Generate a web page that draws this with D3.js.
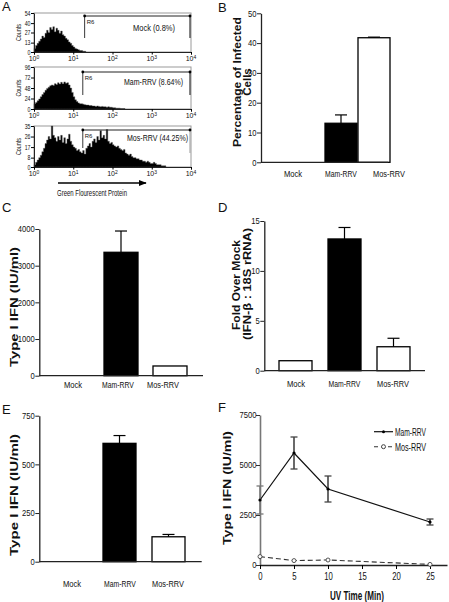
<!DOCTYPE html>
<html><head><meta charset="utf-8">
<script src="https://cdn.jsdelivr.net/npm/d3@7"></script>
<style>
body{margin:0;background:#fff}
svg{display:block}
text{font-family:"Liberation Sans Narrow","Arial Narrow","Liberation Sans",Arial,sans-serif;fill:#111}
.bold{font-family:"Liberation Sans",Arial,sans-serif;font-weight:bold}
.reg{font-family:"Liberation Sans",Arial,sans-serif}
</style></head><body>
<script>
// ---------- DATA ----------
const histBinDecades = 0.04;
const mockCounts = [5,9,12,15,18,22,20,26,30,27,34,31,35,28,33,30,26,29,24,22,19,17,14,12,9,7,5,4,3,2,2,1,1];
const mamCounts = [12,15,19,23,28,33,38,43,47,50,53,55,54,58,56,60,57,61,58,62,59,60,55,48,38,28,21,17,14,12,12,11,10,9,9,8,8,7,7,6,7,6,5,6,5,5,4,5,4,4,3,3,2,2,2,1,1,1];
const mosCounts = [2,4,6,8,10,13,16,20,23,26,24,35,27,25,22,26,23,27,21,25,20,24,28,22,19,17,16,14,15,13,12,14,11,16,18,20,17,22,24,21,26,23,31,25,27,24,32,22,20,21,19,18,17,18,16,15,14,15,12,11,10,11,9,8,8,7,7,6,6,5,5,4,5,4,3,3,4,3,2,2,2,1,1,1];
const histYMax = [54, 96, 35];
const histYTicks = [[0,13,27,40,54],[0,24,48,72,96],[0,8,17,26,35]];
const histLabels = ["Mock (0.8%)","Mam-RRV (8.64%)","Mos-RRV (44.25%)"];
const gateStart = [19.5, 17.5, 17.5];
const xDecades = [0,1,2,3,4];

const categories = ["Mock","Mam-RRV","Mos-RRV"];
const barFills = ["#fff","#000","#fff"];
const infectedPct = [0,13.1,41.8];
const infectedErr = [0,2.8,0.2];
const ifnC = [0,3365,265];
const ifnCErr = [0,580,0];
const foldD = [1.0,13.2,2.4];
const foldDErr = [0,1.15,0.85];
const ifnE = [0,608,128];
const ifnEErr = [0,40,12];
const ticksB = [0,10,20,30,40,50];
const ticksC = [0,1000,2000,3000,4000];
const ticksD = [0,5,10,15];
const ticksE = [0,250,500,750];

const uvTimes = [0,5,10,25];
const mamUV = [3250,5600,3800,2150];
const mamUVErr = [700,800,650,150];
const mosUV = [420,220,250,30];
const mosUVErr = [130,40,30,20];
const ticksFY = [0,2500,5000,7500];
const ticksFX = [0,5,10,15,20,25];

// ---------- DRAW ----------
const svg = d3.select("body").append("svg").attr("width",449).attr("height",602);
const fmt = d3.format("d");

function txt(g, x, y, s, o={}) {
  const t = g.append("text").attr("x",x).attr("y",y).text(s);
  if (o.size) t.style("font-size", o.size+"px");
  if (o.cls) t.attr("class", o.cls);
  if (o.anchor) t.attr("text-anchor", o.anchor);
  if (o.len) t.attr("textLength", o.len).attr("lengthAdjust","spacingAndGlyphs");
  if (o.rot) t.attr("transform", `rotate(-90,${x},${y})`);
  if (o.fill) t.style("fill", o.fill);
  return t;
}
function narrow(sel, perChar){
  sel.each(function(){
    const s = d3.select(this);
    s.attr("textLength", s.text().length*perChar).attr("lengthAdjust","spacingAndGlyphs");
  });
}

// panel letters
[["A",2,11],["B",218,12],["C",2,212],["D",218,212],["E",2,414],["F",218,412]].forEach(d=>txt(svg,d[1],d[2],d[0],{size:13,cls:"reg"}));

// ---- Panel A histograms ----
const histBoxes = [
  {x0:34,x1:191,yTop:13,yBot:52, gTop:16, gBotL:38, gBotR:38, ly:31},
  {x0:34,x1:191,yTop:67,yBot:109, gTop:72, gBotL:95, gBotR:95, ly:85},
  {x0:34,x1:191,yTop:126,yBot:167, gTop:130, gBotL:148, gBotR:153, ly:141}
];
const histCounts = [mockCounts, mamCounts, mosCounts];
const histLabelX = [[133,42],[124,59],[127,61]];
histBoxes.forEach((b,k)=>{
  const g = svg.append("g");
  const x = d3.scaleLog().domain([1,1e4]).range([b.x0,b.x1]);
  const y = d3.scaleLinear().domain([0,histYMax[k]]).range([b.yBot,b.yTop]);
  g.append("rect").attr("x",b.x0).attr("y",b.yTop).attr("width",b.x1-b.x0).attr("height",b.yBot-b.yTop)
    .attr("fill","none").attr("stroke","#9a9a9a").attr("stroke-width",1);
  const pts = histCounts[k].map((c,i)=>({v:Math.pow(10,i*histBinDecades), c}));
  pts.push({v:Math.pow(10,histCounts[k].length*histBinDecades), c:0});
  g.append("path").datum(pts)
    .attr("d", d3.area().x(d=>x(d.v)).y0(b.yBot).y1(d=>y(d.c)).curve(d3.curveStepAfter))
    .attr("fill","#000").attr("stroke","#555").attr("stroke-width",0.4);
  const ya = g.append("g").attr("transform",`translate(${b.x0},0)`)
    .call(d3.axisLeft(y).tickValues(histYTicks[k]).tickSize(3).tickSizeOuter(0));
  ya.select(".domain").attr("stroke","#222");
  ya.selectAll("text").style("font-size","7px").attr("x",-3.5);
  narrow(ya.selectAll("text"), 2.9);
  const xa = g.append("g").attr("transform",`translate(0,${b.yBot})`)
    .call(d3.axisBottom(x).tickValues(xDecades.map(d=>Math.pow(10,d))).tickSize(2.5).tickFormat(""));
  xa.select(".domain").attr("stroke","#222");
  xDecades.forEach(d=>{
    const t = g.append("text").attr("x",x(Math.pow(10,d))).attr("y",b.yBot+9).attr("text-anchor","middle").style("font-size","7px");
    t.append("tspan").text("10");
    t.append("tspan").text(d).attr("dy",-2.5).style("font-size","5px");
  });
  txt(g, 21, (b.yTop+b.yBot)/2, "Counts", {size:6.5, anchor:"middle", rot:true, len:17});
  // gate R6
  const gx0 = x(gateStart[k]), gx1 = x(1e4)-1;
  g.append("line").attr("x1",gx0).attr("x2",gx1).attr("y1",b.gTop).attr("y2",b.gTop).attr("stroke","#222").attr("stroke-width",1);
  g.append("line").attr("x1",gx0).attr("x2",gx0).attr("y1",b.gTop).attr("y2",b.gBotL).attr("stroke","#222").attr("stroke-width",0.9);
  g.append("line").attr("x1",gx1).attr("x2",gx1).attr("y1",b.gTop).attr("y2",b.gBotR).attr("stroke",k===2?"#aaa":"#333").attr("stroke-width",1.2);
  [gx0,gx1].forEach(xx=>g.append("circle").attr("cx",xx).attr("cy",b.gTop).attr("r",1.4).attr("fill","#000"));
  txt(g, gx0+2, b.gTop+8, "R6", {size:6});
  txt(g, histLabelX[k][0], b.ly, histLabels[k], {size:9, len:histLabelX[k][1]});
});
// GFP arrow
const defs = svg.append("defs");
defs.append("marker").attr("id","arr").attr("viewBox","0 0 10 10").attr("refX",9).attr("refY",5)
  .attr("markerWidth",6).attr("markerHeight",6).attr("orient","auto")
  .append("path").attr("d","M0,1 L10,5 L0,9 Z").attr("fill","#000");
svg.append("line").attr("x1",58).attr("x2",146).attr("y1",183).attr("y2",183).attr("stroke","#000").attr("stroke-width",1.3).attr("marker-end","url(#arr)");
txt(svg, 92, 196, "Green Flourescent Protein", {size:9, anchor:"middle", len:70});

// ---- Bar panels ----
function barPanel(p){
  const g = svg.append("g");
  const y = d3.scaleLinear().domain(p.domain).range([p.yBot,p.yTop]);
  const xc = d3.scalePoint().domain(categories).range(p.barCenters);
  const xl = d3.scalePoint().domain(categories).range(p.labelCenters);
  categories.forEach((c,i)=>{
    const v = p.values[i];
    if (v>0) {
      g.append("rect").attr("x",xc(c)-p.barW/2).attr("y",y(v)).attr("width",p.barW).attr("height",y(0)-y(v))
        .attr("fill",barFills[i]).attr("stroke","#000").attr("stroke-width",1.3);
    }
    if (p.errs[i]>0) {
      g.append("line").attr("x1",xc(c)).attr("x2",xc(c)).attr("y1",y(v)).attr("y2",y(v+p.errs[i])).attr("stroke","#000").attr("stroke-width",1.2);
      g.append("line").attr("x1",xc(c)-6).attr("x2",xc(c)+6).attr("y1",y(v+p.errs[i])).attr("y2",y(v+p.errs[i])).attr("stroke","#000").attr("stroke-width",1.2);
    }
    const t = txt(g, xl(c), p.labelY, c, {size:9, anchor:"middle"});
    narrow(t, 4.55);
  });
  const ya = g.append("g").attr("transform",`translate(${p.ax},0)`)
    .call(d3.axisLeft(y).tickValues(p.ticks).tickSize(4).tickSizeOuter(0).tickFormat(fmt));
  ya.select(".domain").attr("stroke","#222").attr("stroke-width",1.3);
  ya.selectAll(".tick line").attr("stroke","#222");
  ya.selectAll("text").style("font-size","9px").attr("x",-4.5);
  narrow(ya.selectAll("text"), 4.25);
  g.append("line").attr("x1",p.ax).attr("x2",p.axEnd).attr("y1",p.yBot).attr("y2",p.yBot).attr("stroke","#222").attr("stroke-width",1.3);
  p.yLabels.forEach(l=>txt(g, l.x, l.y, l.s, {size:11.5, cls:"bold", anchor:"middle", rot:true, len:l.len}));
}
barPanel({ax:261, yTop:13.3, yBot:162.3, axEnd:388, domain:[0,50], ticks:ticksB, values:infectedPct, errs:infectedErr,
  barCenters:[308,374], barW:32, labelCenters:[293,389], labelY:177,
  yLabels:[{x:241,y:82,s:"Percentage of Infected",len:130},{x:251,y:82,s:"Cells"}]});
barPanel({ax:39.3, yTop:229, yBot:375.7, axEnd:203, domain:[0,4000], ticks:ticksC, values:ifnC, errs:ifnCErr,
  barCenters:[72,170], barW:34, labelCenters:[73,163], labelY:388,
  yLabels:[{x:18,y:307,s:"Type I IFN (IU/ml)",len:120}]});
barPanel({ax:264.3, yTop:221, yBot:370.7, axEnd:425, domain:[0,15], ticks:ticksD, values:foldD, errs:foldDErr,
  barCenters:[295.5,393.5], barW:33, labelCenters:[296,393], labelY:387,
  yLabels:[{x:240,y:285,s:"Fold Over Mock",len:90},{x:251,y:284,s:"(IFN-β : 18S rRNA)",len:112}]});
barPanel({ax:39.3, yTop:415.7, yBot:561.7, axEnd:201.7, domain:[0,750], ticks:ticksE, values:ifnE, errs:ifnEErr,
  barCenters:[70.5,168.5], barW:33, labelCenters:[72,168], labelY:587,
  yLabels:[{x:18,y:495,s:"Type I IFN (IU/ml)",len:122}]});

// ---- Panel F ----
(function(){
  const g = svg.append("g");
  const x = d3.scaleLinear().domain([0,27.5]).range([260,447]);
  const y = d3.scaleLinear().domain([0,7500]).range([565,415]);
  const ya = g.append("g").attr("transform","translate(260,0)")
    .call(d3.axisLeft(y).tickValues(ticksFY).tickSize(4).tickSizeOuter(0).tickFormat(fmt));
  ya.select(".domain").attr("stroke","#777").attr("stroke-width",1.6);
  ya.selectAll(".tick line").attr("stroke","#333");
  ya.selectAll("text").style("font-size","9px").attr("x",-3.5);
  narrow(ya.selectAll("text"), 4.25);
  const xa = g.append("g").attr("transform","translate(0,565)")
    .call(d3.axisBottom(x).tickValues(ticksFX).tickSize(4).tickSizeOuter(0).tickFormat(fmt));
  xa.select(".domain").attr("stroke","#222").attr("stroke-width",1.3);
  xa.selectAll("text").style("font-size","11px").attr("y",7);
  narrow(xa.selectAll("text"), 4.3);
  // Mos series (dashed)
  const line = d3.line().x((d,i)=>x(uvTimes[i])).y(d=>y(d));
  g.append("path").datum(mosUV).attr("d",line).attr("fill","none").attr("stroke","#333").attr("stroke-width",1.1).attr("stroke-dasharray","5,3");
  mosUV.forEach((v,i)=>{
    const e = mosUVErr[i];
    g.append("line").attr("x1",x(uvTimes[i])).attr("x2",x(uvTimes[i])).attr("y1",y(v-e)).attr("y2",y(v+e)).attr("stroke","#555");
    g.append("circle").attr("cx",x(uvTimes[i])).attr("cy",y(v)).attr("r",2).attr("fill","#fff").attr("stroke","#444").attr("stroke-width",0.9);
  });
  g.append("path").datum(mamUV).attr("d",line).attr("fill","none").attr("stroke","#111").attr("stroke-width",1.2);
  mamUV.forEach((v,i)=>{
    const e = mamUVErr[i], cx = x(uvTimes[i]);
    const col = i===0 ? "#777" : "#444";
    g.append("line").attr("x1",cx).attr("x2",cx).attr("y1",y(v-e)).attr("y2",y(v+e)).attr("stroke",col).attr("stroke-width",1.6);
    [v-e,v+e].forEach(w=>g.append("line").attr("x1",cx-3.5).attr("x2",cx+3.5).attr("y1",y(w)).attr("y2",y(w)).attr("stroke",col).attr("stroke-width",1.3));
    g.append("circle").attr("cx",cx).attr("cy",y(v)).attr("r",1.6).attr("fill","#000");
  });
  // legend
  g.append("line").attr("x1",374).attr("x2",393).attr("y1",431.7).attr("y2",431.7).attr("stroke","#111").attr("stroke-width",1.2);
  g.append("circle").attr("cx",383.5).attr("cy",431.7).attr("r",1.5).attr("fill","#000");
  txt(g, 395, 436, "Mam-RRV", {size:11, len:31});
  g.append("line").attr("x1",374).attr("x2",393).attr("y1",446.7).attr("y2",446.7).attr("stroke","#333").attr("stroke-width",1.1).attr("stroke-dasharray","4,3");
  g.append("circle").attr("cx",383.5).attr("cy",446.7).attr("r",2).attr("fill","#fff").attr("stroke","#444");
  txt(g, 395, 451, "Mos-RRV", {size:11, len:31});
  txt(g, 357, 600, "UV Time (Min)", {size:12, cls:"bold", anchor:"middle", len:54});
  txt(g, 231, 488, "Type I IFN (IU/ml)", {size:11.5, cls:"bold", anchor:"middle", rot:true, len:114});
})();
</script>
</body></html>
